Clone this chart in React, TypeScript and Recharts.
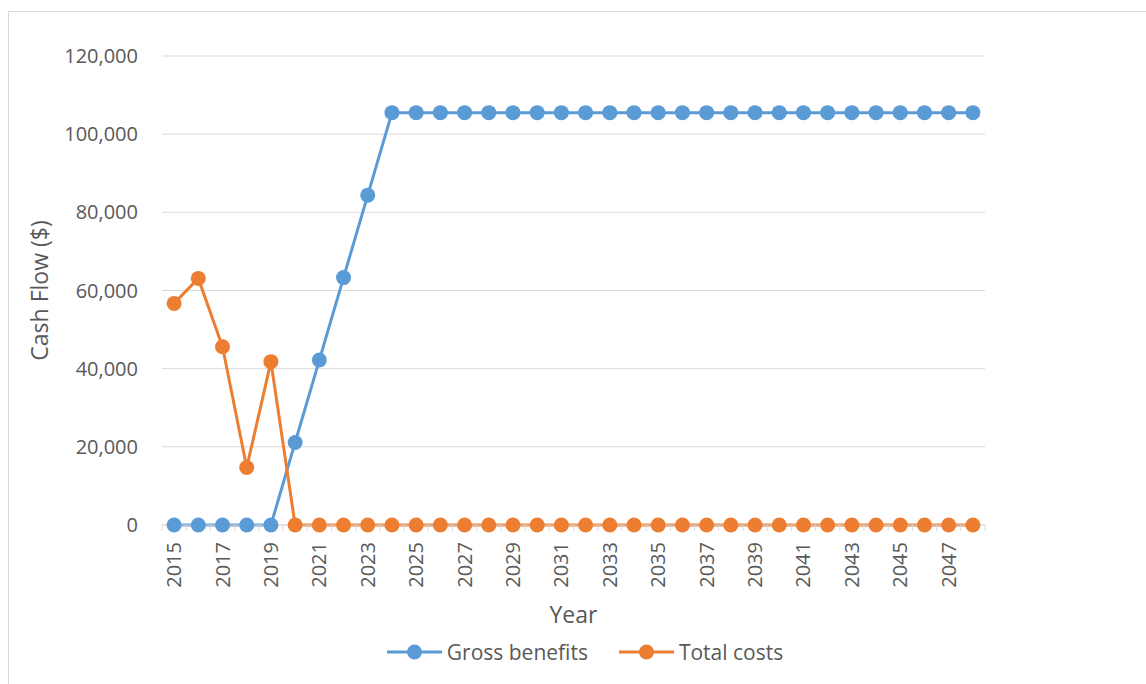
import React from "react"
import { LineChart, Line, XAxis, YAxis, CartesianGrid, Legend } from "recharts"

const years = [
  2015, 2016, 2017, 2018, 2019, 2020, 2021, 2022, 2023, 2024, 2025, 2026,
  2027, 2028, 2029, 2030, 2031, 2032, 2033, 2034, 2035, 2036, 2037, 2038,
  2039, 2040, 2041, 2042, 2043, 2044, 2045, 2046, 2047, 2048,
]

const grossBenefits = [
  0, 0, 0, 0, 0, 21100, 42200, 63300, 84400, 105500, 105500, 105500,
  105500, 105500, 105500, 105500, 105500, 105500, 105500, 105500, 105500, 105500, 105500, 105500,
  105500, 105500, 105500, 105500, 105500, 105500, 105500, 105500, 105500, 105500,
]

const totalCosts = [
  56700, 63100, 45600, 14700, 41800, 0, 0, 0, 0, 0, 0, 0,
  0, 0, 0, 0, 0, 0, 0, 0, 0, 0, 0, 0,
  0, 0, 0, 0, 0, 0, 0, 0, 0, 0,
]

const yTicks = [0, 20000, 40000, 60000, 80000, 100000, 120000]

const series = [
  { key: "benefits", name: "Gross benefits", color: "#5B9BD5" },
  { key: "costs", name: "Total costs", color: "#ED7D31" },
]

const data = years.map((year, i) => ({
  year,
  benefits: grossBenefits[i],
  costs: totalCosts[i],
}))

const W = 1138
const H = 673
const FONT = "'Open Sans', sans-serif"
const TEXT = "#595959"
const GRID = "#D9D9D9"
const Y_AXIS_W = 153
const RIGHT = 162
const step = (W - Y_AXIS_W - RIGHT) / years.length

const YearTick = (props: any) => {
  const { x, y, index } = props
  const left = x - step / 2
  return (
    <g>
      <line x1={left} y1={y} x2={left} y2={y + 6} stroke={GRID} />
      {index === years.length - 1 && (
        <line x1={x + step / 2} y1={y} x2={x + step / 2} y2={y + 6} stroke={GRID} />
      )}
      {index % 2 === 0 && (
        <text
          x={x}
          y={y + 17}
          transform={`rotate(-90 ${x} ${y + 17})`}
          textAnchor="end"
          dy="0.35em"
          fill={TEXT}
          fontSize={20}
        >
          {props.payload.value}
        </text>
      )}
    </g>
  )
}

const LegendContent = () => (
  <div
    style={{
      display: "flex",
      justifyContent: "center",
      alignItems: "center",
      height: 30,
      paddingLeft: 14,
      boxSizing: "border-box",
      fontFamily: FONT,
      fontSize: 21,
      color: TEXT,
    }}
  >
    {series.map((s, i) => (
      <div key={s.key} style={{ display: "flex", alignItems: "center", marginLeft: i ? 31 : 0 }}>
        <svg width={55} height={16}>
          <line x1={0} y1={8} x2={55} y2={8} stroke={s.color} strokeWidth={3} />
          <circle cx={27.5} cy={8} r={7.5} fill={s.color} />
        </svg>
        <span style={{ marginLeft: 5 }}>{s.name}</span>
      </div>
    ))}
  </div>
)

export default function App() {
  return (
    <div
      style={{
        position: "fixed",
        left: 8,
        top: 11,
        width: W,
        height: H,
        borderTop: `1px solid ${GRID}`,
        borderLeft: `1px solid ${GRID}`,
        fontFamily: FONT,
        background: "#fff",
      }}
    >
      <LineChart width={W} height={H} data={data} margin={{ top: 44, right: RIGHT, left: 0, bottom: 18 }}>
        <CartesianGrid vertical={false} stroke={GRID} />
        <XAxis
          dataKey="year"
          interval={0}
          height={112}
          padding={{ left: step / 2, right: step / 2 }}
          axisLine={{ stroke: GRID }}
          tickLine={false}
          tickSize={0}
          tickMargin={0}
          tick={<YearTick />}
          label={{ value: "Year", position: "insideBottom", offset: 14, fill: TEXT, fontSize: 23 }}
        />
        <YAxis
          width={Y_AXIS_W}
          domain={[0, 120000]}
          ticks={yTicks}
          axisLine={false}
          tickLine={false}
          tickSize={0}
          tickMargin={24}
          tick={{ fill: TEXT, fontSize: 20 }}
          tickFormatter={(v: number) => v.toLocaleString("en-US")}
          label={{ value: "Cash Flow ($)", angle: -90, position: "center", dx: -46, fill: TEXT, fontSize: 23 }}
        />
        <Legend verticalAlign="bottom" height={30} width={W} wrapperStyle={{ left: 0 }} content={<LegendContent />} />
        {series.map((s) => (
          <Line
            key={s.key}
            type="linear"
            dataKey={s.key}
            name={s.name}
            stroke={s.color}
            strokeWidth={3}
            dot={{ r: 7.5, fill: s.color, stroke: "none" }}
            activeDot={false}
            isAnimationActive={false}
          />
        ))}
      </LineChart>
    </div>
  )
}
